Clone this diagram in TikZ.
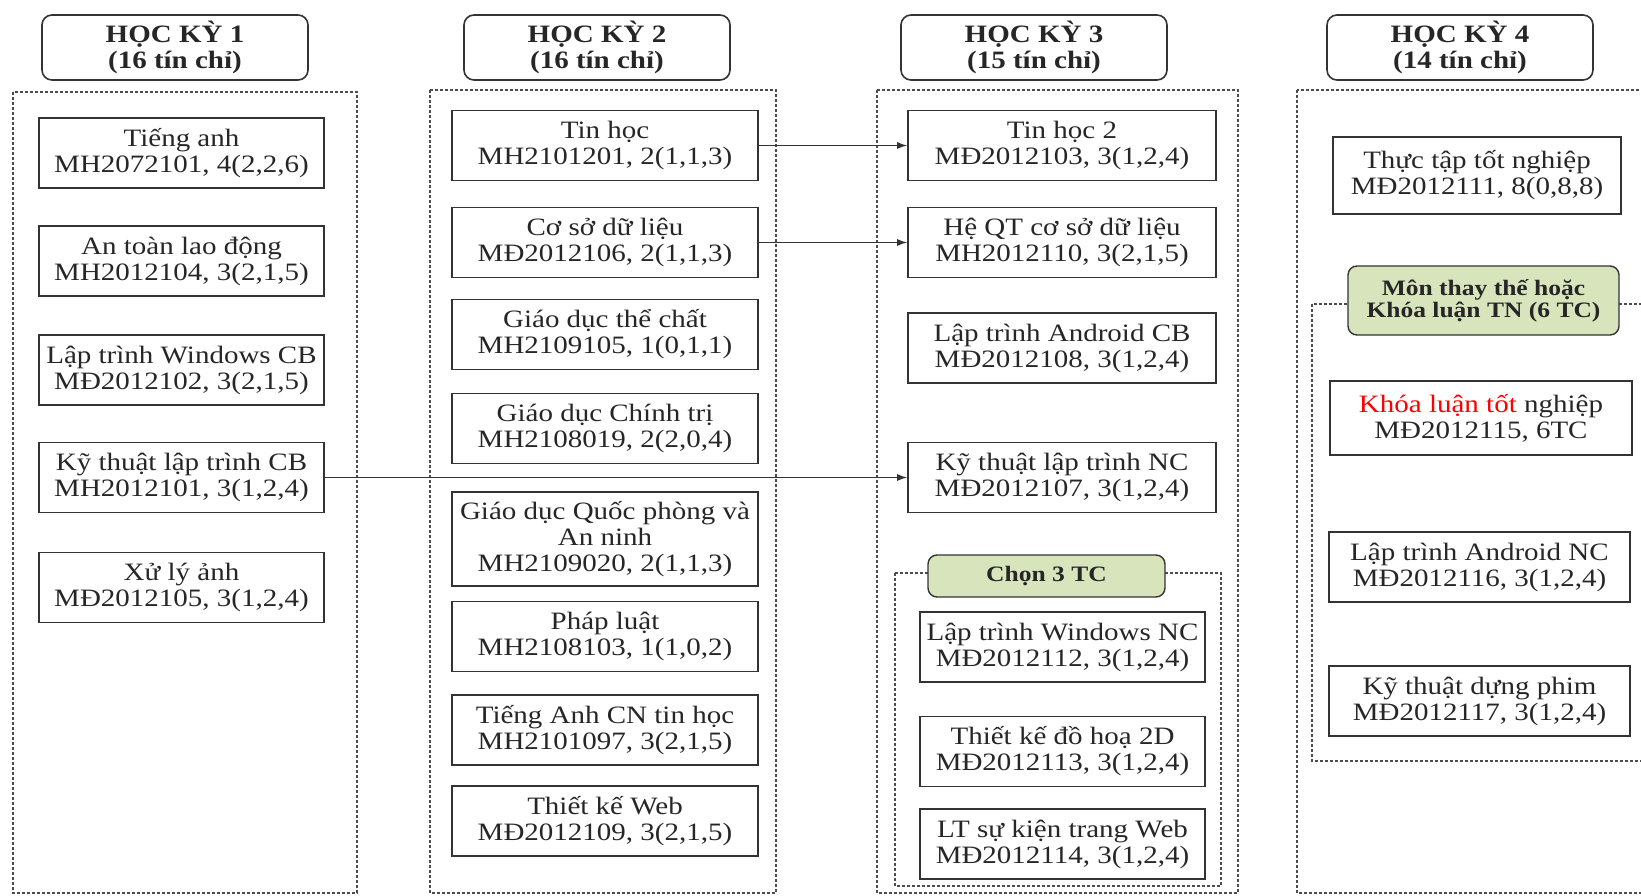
\documentclass[tikz,border=0pt]{standalone}
\usepackage{fontspec}
\setmainfont{Liberation Serif}[FakeStretch=1.16]
\usetikzlibrary{arrows.meta}
\tikzset{every node/.style={font=\fontsize{25}{26}\selectfont, text=black!85}}
\colorlet{boxcol}{black!80}
\colorlet{framecol}{black!70}
\colorlet{notecol}{red}
\definecolor{choicecol}{HTML}{D8E4BC}
\tikzset{
  course/.style={draw=boxcol, line width=1.6pt, rectangle, inner sep=0pt,
    align=center, minimum width=#1, minimum height=70pt},
  semhead/.style={draw=boxcol, line width=1.6pt, rounded corners=10pt,
    align=center, minimum width=266pt, minimum height=65pt,
    font=\fontsize{25}{26}\selectfont\bfseries},
  choicebox/.style={draw=boxcol, line width=1.4pt, fill=choicecol,
    rounded corners=9pt, align=center, minimum width=#1, inner sep=0pt,
    font=\fontsize{22}{22}\selectfont\bfseries},
  semframe/.style={draw=framecol, line width=1.2pt, dash pattern=on 3pt off 2pt},
}

\begin{document}
\begin{tikzpicture}[x=1pt, y=-1pt, >={Latex[length=10pt, width=7pt]}]

  \useasboundingbox (0,0) rectangle (1641,896);
  \clip (0,0) rectangle (1641,896);

  % Semester frames.
  \draw[semframe] (13,92) rectangle (357,893);
  \draw[semframe] (430,90) rectangle (776,893);
  \draw[semframe] (877,90) rectangle (1238,893);
  \draw[semframe] (1297,90) rectangle (1660,893);
  \draw[semframe] (895,573) rectangle (1221,886);
  \draw[semframe] (1312,304) rectangle (1660,761);

  % Semester headers.
  \node[semhead] (hk1) at (175,47.5) {HỌC KỲ 1\\(16 tín chỉ)};
  \node[semhead] (hk2) at (597,47.5) {HỌC KỲ 2\\(16 tín chỉ)};
  \node[semhead] (hk3) at (1034,47.5) {HỌC KỲ 3\\(15 tín chỉ)};
  \node[semhead] (hk4) at (1460,47.5) {HỌC KỲ 4\\(14 tín chỉ)};

  % Semester 1.
  \node[course=285pt] (tienganh) at (181.5,153) {Tiếng anh\\MH2072101, 4(2,2,6)};
  \node[course=285pt] (antoan) at (181.5,261) {An toàn lao động\\MH2012104, 3(2,1,5)};
  \node[course=285pt] (ltwincb) at (181.5,370) {Lập trình Windows CB\\MĐ2012102, 3(2,1,5)};
  \node[course=285pt] (ktltcb) at (181.5,477.5) {Kỹ thuật lập trình CB\\MH2012101, 3(1,2,4)};
  \node[course=285pt] (xulyanh) at (181.5,587.5) {Xử lý ảnh\\MĐ2012105, 3(1,2,4)};

  % Semester 2.
  \node[course=306pt] (tinhoc) at (605,145.5) {Tin học\\MH2101201, 2(1,1,3)};
  \node[course=306pt] (csdl) at (605,242.5) {Cơ sở dữ liệu\\MĐ2012106, 2(1,1,3)};
  \node[course=306pt] (gdtc) at (605,334.5) {Giáo dục thể chất\\MH2109105, 1(0,1,1)};
  \node[course=306pt] (gdct) at (605,428.5) {Giáo dục Chính trị\\MH2108019, 2(2,0,4)};
  \node[course=306pt, minimum height=94pt] (gdqp) at (605,539)
    {Giáo dục Quốc phòng và\\An ninh\\MH2109020, 2(1,1,3)};
  \node[course=306pt] (phapluat) at (605,636.5) {Pháp luật\\MH2108103, 1(1,0,2)};
  \node[course=306pt] (tacn) at (605,730) {Tiếng Anh CN tin học\\MH2101097, 3(2,1,5)};
  \node[course=306pt] (tkweb) at (605,821) {Thiết kế Web\\MĐ2012109, 3(2,1,5)};

  % Semester 3.
  \node[course=308pt] (tinhoc2) at (1062,145.5) {Tin học 2\\MĐ2012103, 3(1,2,4)};
  \node[course=308pt] (heqt) at (1062,242.5) {Hệ QT cơ sở dữ liệu\\MH2012110, 3(2,1,5)};
  \node[course=308pt] (androidcb) at (1062,348) {Lập trình Android CB\\MĐ2012108, 3(1,2,4)};
  \node[course=308pt] (ktltnc) at (1062,477.5) {Kỹ thuật lập trình NC\\MĐ2012107, 3(1,2,4)};
  \node[choicebox=237pt, minimum height=42pt] (chon3) at (1046.5,576) {Chọn 3 TC};
  \node[course=285pt] (ltwinnc) at (1062.5,647) {Lập trình Windows NC\\MĐ2012112, 3(1,2,4)};
  \node[course=285pt] (tkdh) at (1062.5,751.5) {Thiết kế đồ hoạ 2D\\MĐ2012113, 3(1,2,4)};
  \node[course=285pt] (ltsk) at (1062.5,844) {LT sự kiện trang Web\\MĐ2012114, 3(1,2,4)};

  % Semester 4.
  \node[course=288pt, minimum height=77pt] (thuctap) at (1477,175.5)
    {Thực tập tốt nghiệp\\MĐ2012111, 8(0,8,8)};
  \node[choicebox=271pt, minimum height=69pt] (monthay) at (1483.5,300.5)
    {Môn thay thế hoặc\\Khóa luận TN (6 TC)};
  \node[course=302pt, minimum height=74pt] (khoaluan) at (1481,418)
    {\textcolor{notecol}{Khóa luận tốt} nghiệp\\MĐ2012115, 6TC};
  \node[course=301pt] (androidnc) at (1479.5,567) {Lập trình Android NC\\MĐ2012116, 3(1,2,4)};
  \node[course=301pt] (dungphim) at (1479.5,701) {Kỹ thuật dựng phim\\MĐ2012117, 3(1,2,4)};

  % Prerequisite arrows.
  \draw[->, line width=1.3pt, boxcol] (tinhoc) -- (tinhoc2);
  \draw[->, line width=1.3pt, boxcol] (csdl) -- (heqt);
  \draw[->, line width=1.3pt, boxcol] (ktltcb) -- (ktltnc);

\end{tikzpicture}
\end{document}
